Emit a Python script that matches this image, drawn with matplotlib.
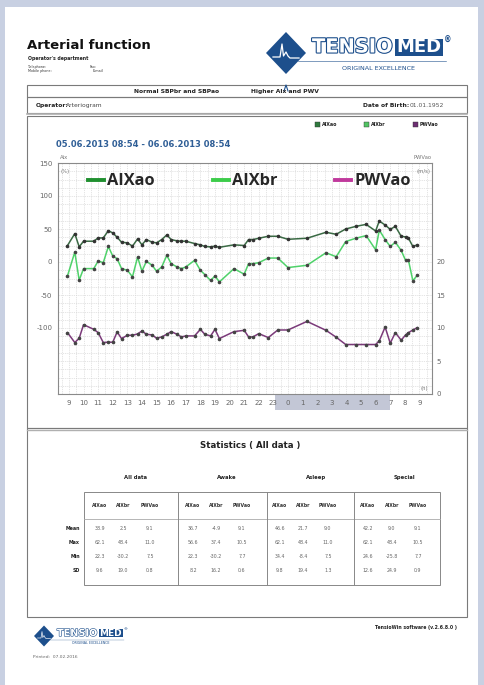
import numpy as np
import matplotlib
matplotlib.use("Agg")
import matplotlib.pyplot as plt
from matplotlib.patches import Rectangle, Polygon
import matplotlib.patheffects as pe
import matplotlib.transforms as mtransforms

plt.rcParams["axes.unicode_minus"] = False

# measurement times (hours from 0:00 on 05.06, >24 = next day)
times = [8.9, 9.4, 9.7, 10.0, 10.7, 11.0, 11.35, 11.7, 12.0, 12.3, 12.6, 13.0,
         13.35, 13.7, 14.0, 14.3, 14.7, 15.0, 15.35, 15.7, 16.0, 16.4, 16.7,
         17.0, 17.6, 18.0, 18.3, 18.7, 19.0, 19.3, 20.3, 21.0, 21.3, 21.6,
         22.0, 22.65, 23.3, 24.0, 25.3, 26.6, 27.3, 27.95, 28.65, 29.35, 30.0,
         30.25, 30.65, 31.0, 31.35, 31.75, 32.05, 32.25, 32.55, 32.85]

aixao = [25, 43, 23, 31.5, 31.5, 36.5, 36.5, 47.5, 44, 37.5, 30, 29, 24, 35, 26,
         34, 30, 29, 34, 41, 34, 32, 31.5, 31.5, 28, 26, 23.5, 23, 24, 22.3, 26,
         25, 34, 34, 36, 39, 39, 34.4, 36, 45, 42, 50, 54, 57, 47, 62.1, 56,
         49.5, 54, 39, 38, 36, 23.5, 26]

aixbr = [-21, 15, -27.5, -10, -10, 1.5, -1, 23.5, 9, 5, -10, -12.5, -22.5, 7.5,
         -14, 1, -5, -14, -7.5, 10, -2.5, -7.5, -10, -7.5, 2.5, -12.5, -19, -28,
         -21, -30.2, -10, -18.5, -2.5, -2.5, -1, 6, 6, -8.4, -5, 14, 8, 31, 36,
         40, 18.5, 48.4, 34, 23.5, 30, 17.5, 2.5, 2.5, -28.5, -20]

pwvao = [9.3, 7.8, 8.45, 10.5, 9.8, 9.3, 7.8, 7.85, 7.85, 9.4, 8.4, 8.9, 8.9,
         9.1, 9.55, 9.05, 8.95, 8.45, 8.65, 9.05, 9.45, 9.05, 8.65, 8.8, 8.8,
         9.8, 9.05, 8.8, 9.8, 8.4, 9.45, 9.65, 8.65, 8.65, 9.15, 8.55, 9.7, 9.7,
         11.0, 9.65, 8.6, 7.5, 7.5, 7.5, 7.5, 8.05, 10.15, 7.7, 9.3, 8.15, 8.95,
         9.3, 9.7, 10.05]

hour_ticks = list(range(9, 34))
left_ticks = [150, 100, 50, 0, -50, -100]
right_ticks = [0, 5, 10, 15, 20]

stat_groups = ["All data", "Awake", "Asleep", "Special"]
stat_cols = ["AIXao", "AIXbr", "PWVao"]
stat_rows = ["Mean", "Max", "Min", "SD"]
stat_all = [["38.9", "2.5", "9.1"], ["62.1", "48.4", "11.0"], ["22.3", "-30.2", "7.5"], ["9.6", "19.0", "0.8"]]
stat_awake = [["36.7", "-4.9", "9.1"], ["56.6", "37.4", "10.5"], ["22.3", "-30.2", "7.7"], ["8.2", "16.2", "0.6"]]
stat_asleep = [["46.6", "21.7", "9.0"], ["62.1", "48.4", "11.0"], ["34.4", "-8.4", "7.5"], ["9.8", "19.4", "1.3"]]
stat_special = [["42.2", "9.0", "9.1"], ["62.1", "48.4", "10.5"], ["24.6", "-25.8", "7.7"], ["12.6", "24.9", "0.9"]]

C_AO = "#3a6a44"
C_BR = "#4fd26a"
C_PWV = "#7b3a7a"
BLUE = "#1d4f8c"

W, H = 484, 685
fig = plt.figure(figsize=(W / 100, H / 100), dpi=100, facecolor="#c8d0e2")

# page drawn in pixel coordinates
bg = fig.add_axes([0, 0, 1, 1])
bg.set_xlim(0, W)
bg.set_ylim(H, 0)
bg.axis("off")
bg.add_patch(Rectangle((5, 7), 473, 680, facecolor="white", edgecolor="none"))


def logo(cx, cy, s):
    # diamond with pulse wave, TENSIO / MED text
    d = 20 * s
    bg.add_patch(Polygon([(cx, cy - d * 1.05), (cx + d, cy), (cx, cy + d * 1.05), (cx - d, cy)],
                         closed=True, facecolor=BLUE, edgecolor="none"))
    wx = np.array([-13, -6, -4, -2.5, 0, 2, 4, 13]) * s
    wy = np.array([4, 4, -9, 3, -1, 3, 5, 5]) * s
    bg.plot(cx + wx, cy + wy, color="white", lw=0.9 * s)
    tx = cx + d + 6 * s
    bg.text(tx, cy - 6 * s, "TENSIO", fontsize=14 * s, fontweight="bold", color="white",
            ha="left", va="center", family="DejaVu Sans",
            path_effects=[pe.withStroke(linewidth=1.6 * s, foreground=BLUE)])
    bg.add_patch(Rectangle((tx + 83 * s, cy - 14.5 * s), 48 * s, 17 * s, facecolor=BLUE, edgecolor="none"))
    bg.text(tx + 107 * s, cy - 6 * s, "MED", fontsize=13 * s, fontweight="bold", color="white",
            ha="center", va="center", family="DejaVu Sans")
    bg.text(tx + 136 * s, cy - 13 * s, "®", fontsize=5.5 * s, color=BLUE, ha="center", va="center",
            fontweight="bold")
    bg.plot([cx + d * 0.6, tx + 134 * s], [cy + 8 * s, cy + 8 * s], color=BLUE, lw=0.4 * s)
    bg.text(tx + 67 * s, cy + 15 * s, "ORIGINAL EXCELLENCE", fontsize=4.6 * s, color=BLUE,
            ha="center", va="center", family="DejaVu Sans")


logo(286, 53, 1.0)
bg.plot([284, 286, 288], [91, 85, 91], color=BLUE, lw=0.8)

bg.text(27, 45, "Arterial function", fontsize=9.5, fontweight="bold", va="center", color="#111")
bg.text(28, 58, "Operator's department", fontsize=3.3, fontweight="bold", va="center", color="#222")
bg.text(28, 67, "Telephone:", fontsize=2.4, va="center", color="#333")
bg.text(28, 71, "Mobile phone:", fontsize=2.4, va="center", color="#333")
bg.text(90, 67, "Fax:", fontsize=2.4, va="center", color="#333")
bg.text(93, 71, "E-mail", fontsize=2.4, va="center", color="#333")

box_kw = dict(facecolor="none", edgecolor="#7a7a7a", lw=0.8)
bg.add_patch(Rectangle((27, 85), 440, 12, **box_kw))
bg.add_patch(Rectangle((27, 97), 440, 16, **box_kw))
bg.add_patch(Rectangle((27, 115.5), 440, 312.5, **box_kw))
bg.add_patch(Rectangle((27, 428), 440, 189, **box_kw))
bg.plot([27, 467], [114, 114], color="#b0b0b0", lw=1.2)
bg.plot([27, 467], [429.5, 429.5], color="#b0b0b0", lw=1.0)

bg.text(177, 91, "Normal SBPbr and SBPao", fontsize=4.3, fontweight="bold", ha="center", va="center", color="#222")
bg.text(285, 91, "Higher AIx and PWV", fontsize=4.3, fontweight="bold", ha="center", va="center", color="#222")
bg.text(36, 105.5, "Operator:", fontsize=4.3, fontweight="bold", va="center", color="#222")
bg.text(66, 105.5, "Arteriogram", fontsize=4.3, va="center", color="#444")
bg.text(409, 105.5, "Date of Birth:", fontsize=4.3, fontweight="bold", ha="right", va="center", color="#222")
bg.text(410, 105.5, "01.01.1952", fontsize=4.3, ha="left", va="center", color="#555")

# small legend at top right of chart box
for x0, lab, col in [(315, "AIXao", "#2f7a3e"), (364, "AIXbr", "#52c463"), (413, "PWVao", "#6d2f72")]:
    bg.add_patch(Rectangle((x0, 122), 5, 5, facecolor=col, edgecolor="#333", lw=0.3))
    bg.text(x0 + 7, 124.5, lab, fontsize=3.4, fontweight="bold", va="center", color="#222")

bg.text(56, 144, "05.06.2013 08:54 - 06.06.2013 08:54", fontsize=6.0, fontweight="bold",
        color="#2f5e96", va="center")
bg.text(60, 157.5, "Aix", fontsize=3.8, color="#777", va="center")
bg.text(432, 157.5, "PWVao", fontsize=3.8, color="#777", va="center", ha="right")

# chart
ax = fig.add_axes([58 / W, 1 - 394 / H, (432 - 58) / W, (394 - 163) / H])
ax.set_facecolor("white")
ax.set_xlim(8.25, 33.86)
ax.set_ylim(-200, 150)
ax.set_xticks(hour_ticks)
ax.set_xticklabels([str(h % 24) for h in hour_ticks])
ax.set_yticks(left_ticks)
ax.set_xticks(np.arange(8.5, 34, 1.0), minor=True)
ax.set_yticks(np.arange(-200, 151, 12.5), minor=True)
ax.grid(True, which="both", color="#d6d6d6", lw=0.45, ls=(0, (2, 1.5)))
ax.tick_params(which="both", length=0, labelsize=5, labelcolor="#666", pad=4)
for sp in ax.spines.values():
    sp.set_color("#8a8a8a")
    sp.set_linewidth(0.8)

ax.plot(times, aixao, color=C_AO, lw=1.1, marker="o", ms=1.6, mfc="#333", mec="#333", zorder=4)
ax.plot(times, aixbr, color=C_BR, lw=1.1, marker="o", ms=1.6, mfc="#444", mec="#444", zorder=4)

ax2 = ax.twinx()
ax2.set_ylim(0, 35)
ax2.set_yticks(right_ticks)
ax2.tick_params(length=0, labelsize=5, labelcolor="#666", pad=3)
for sp in ax2.spines.values():
    sp.set_visible(False)
ax2.plot(times, pwvao, color=C_PWV, lw=1.1, marker="o", ms=1.6, mfc="#444", mec="#444", zorder=4)

ax.text(0.006, 0.965, "(%)", transform=ax.transAxes, fontsize=3.8, color="#777", va="center")
ax.text(0.995, 0.965, "(m/s)", transform=ax.transAxes, fontsize=3.8, color="#777", va="center", ha="right")
ax.text(0.99, 0.025, "(h)", transform=ax.transAxes, fontsize=3.8, color="#777", va="center", ha="right")

# asleep band under the hour labels
trans = mtransforms.blended_transform_factory(ax.transData, ax.transAxes)
ax.add_patch(Rectangle((23.1, -0.068), 7.9, 0.068, transform=trans, clip_on=False,
                       facecolor="#c3c7d6", edgecolor="none", zorder=0.5))

# big overlay legend, on its own transparent layer above the chart
top = fig.add_axes([0, 0, 1, 1], facecolor="none")
top.set_xlim(0, W)
top.set_ylim(H, 0)
top.axis("off")
for x0, lab, col in [(88, "AIXao", "#1f8f2f"), (213, "AIXbr", "#3ccc4a"), (335, "PWVao", "#c0399c")]:
    top.plot([x0, x0 + 16], [180, 180], color=col, lw=2.8)
    top.text(x0 + 19, 180.5, lab, fontsize=11.8, fontweight="bold", family="Open Sans",
             color="#262626", va="center")

# statistics
bg.text(250, 445, "Statistics ( All data )", fontsize=6.2, fontweight="bold", ha="center", va="center", color="#222")
group_x = [136, 227, 316, 404]
col_x = [[100, 123, 150], [193, 216, 242], [280, 303, 328], [368, 392, 418]]
row_y = [528, 542, 556, 570]
tables = [stat_all, stat_awake, stat_asleep, stat_special]
bg.add_patch(Rectangle((84, 492), 356, 93, facecolor="none", edgecolor="#888", lw=0.7))
bg.plot([84, 440], [519, 519], color="#aaa", lw=0.6)
for xs in [177.7, 266.7, 354.3]:
    bg.plot([xs, xs], [492, 585], color="#888", lw=0.7)
for g, gx in enumerate(group_x):
    bg.text(gx, 477, stat_groups[g], fontsize=3.8, fontweight="bold", ha="center", va="center", color="#222")
    for c in range(3):
        bg.text(col_x[g][c], 505, stat_cols[c], fontsize=3.3, fontweight="bold", ha="center", va="center", color="#333")
        for r in range(4):
            bg.text(col_x[g][c], row_y[r], tables[g][r][c], fontsize=3.4, ha="center", va="center", color="#666")
for r, lab in enumerate(stat_rows):
    bg.text(80, row_y[r], lab, fontsize=3.4, fontweight="bold", ha="right", va="center", color="#222")

# footer
logo(44, 636, 0.5)
bg.text(33, 657, "Printed:  07.02.2016", fontsize=3.2, color="#666", va="center")
bg.text(457, 628, "TensioWin software (v.2.6.8.0 )", fontsize=3.3, fontweight="bold", ha="right", va="center", color="#222")

fig.savefig("out.png", dpi=100, facecolor=fig.get_facecolor())
